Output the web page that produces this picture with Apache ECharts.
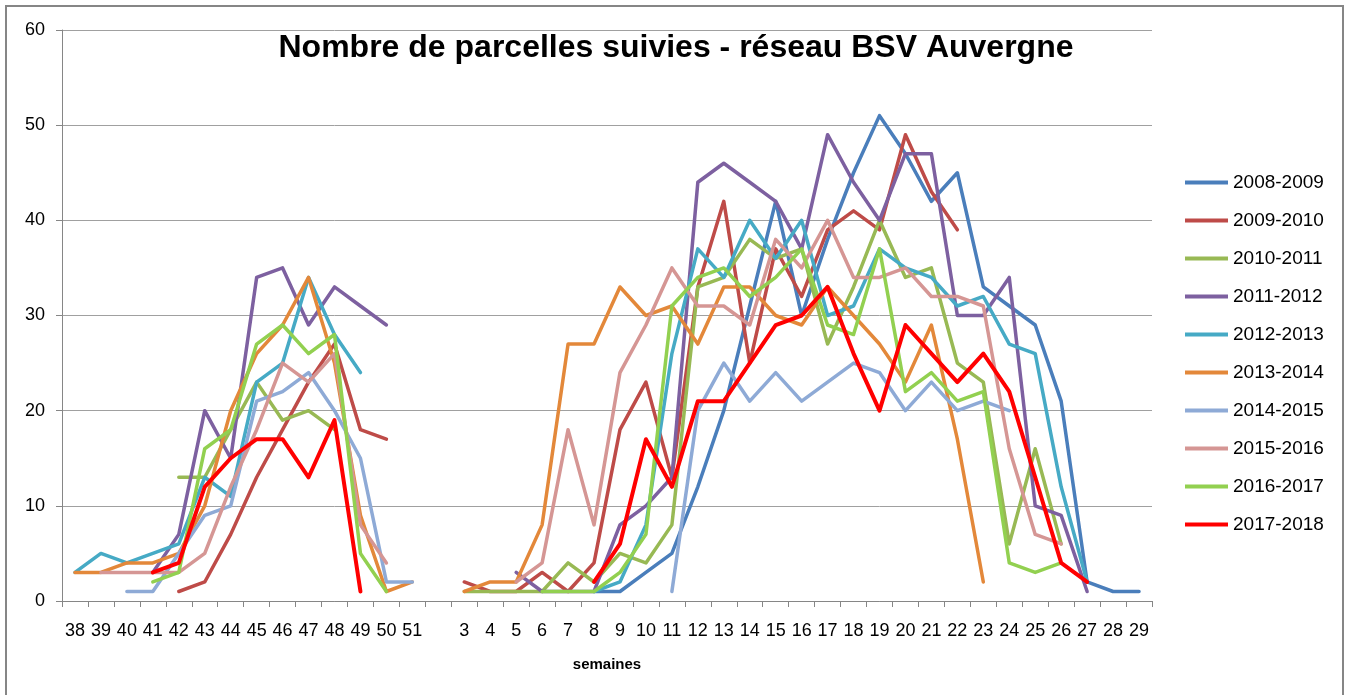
<!DOCTYPE html>
<html>
<head>
<meta charset="utf-8">
<style>
  html, body { margin: 0; padding: 0; background: #fff; }
  #chart { width: 1352px; height: 695px; }
</style>
<script src="https://cdn.jsdelivr.net/npm/echarts@6/dist/echarts.min.js"></script>
</head>
<body>
<div id="chart"></div>
<script>
// weeks 38-51 (autumn), then a blank slot, then weeks 3-29 (spring)
var autumnWeeks = ['38', '39', '40', '41', '42', '43', '44', '45', '46', '47', '48', '49', '50', '51'];
var springWeeks = ['3', '4', '5', '6', '7', '8', '9', '10', '11', '12', '13', '14', '15', '16', '17',
  '18', '19', '20', '21', '22', '23', '24', '25', '26', '27', '28', '29'];
var yTicks = [0, 10, 20, 30, 40, 50, 60];

var seasons = ['2008-2009', '2009-2010', '2010-2011', '2011-2012', '2012-2013',
  '2013-2014', '2014-2015', '2015-2016', '2016-2017', '2017-2018'];
var colors = ['#4a7ebb', '#be4b48', '#98b954', '#7d60a0', '#46aac5',
  '#e3883a', '#8eaad6', '#d59694', '#92d050', '#ff0000'];

var _ = null;
var autumn0809 = [_, _, _, _, _, _, _, _, _, _, _, _, _, _];
var spring0809 = [_, _, _, _, _, 1, 1, 3, 5, 12, 20, 31, 42, 30, 38, 45, 51, 47, 42, 45, 33, 31, 29, 21, 2, 1, 1];
var autumn0910 = [_, _, _, _, 1, 2, 7, 13, 18, 23, 27, 18, 17, _];
var spring0910 = [2, 1, 1, 3, 1, 4, 18, 23, 13, 33, 42, 25, 37, 32, 39, 41, 39, 49, 43, 39, _, _, _, _, _, _, _];
var autumn1011 = [_, _, _, _, 13, 13, 18, 23, 19, 20, 18, _, _, _];
var spring1011 = [1, 1, 1, 1, 4, 2, 5, 4, 8, 33, 34, 38, 36, 37, 27, 33, 40, 34, 35, 25, 23, 6, 16, 6, _, _, _];
var autumn1112 = [_, _, _, 3, 7, 20, 15, 34, 35, 29, 33, 31, 29, _];
var spring1112 = [_, _, 3, 1, 1, 1, 8, 10, 13, 44, 46, 44, 42, 37, 49, 44, 40, 47, 47, 30, 30, 34, 10, 9, 1, _, _];
var autumn1213 = [3, 5, 4, 5, 6, 13, 11, 23, 25, 34, 28, 24, _, _];
var spring1213 = [_, _, _, _, _, 1, 2, 8, 26, 37, 34, 40, 36, 40, 30, 31, 37, 35, 34, 31, 32, 27, 26, 12, 2, _, _];
var autumn1314 = [3, 3, 4, 4, 5, 10, 20, 26, 29, 34, 25, 9, 1, 2];
var spring1314 = [1, 2, 2, 8, 27, 27, 33, 30, 31, 27, 33, 33, 30, 29, 33, 30, 27, 23, 29, 17, 2, _, _, _, _, _, _];
var autumn1415 = [_, _, 1, 1, 5, 9, 10, 21, 22, 24, 20, 15, 2, 2];
var spring1415 = [_, _, _, _, _, _, _, _, 1, 20, 25, 21, 24, 21, 23, 25, 24, 20, 23, 20, 21, 20, _, _, _, _, _];
var autumn1516 = [_, 3, 3, 3, 3, 5, 12, 18, 25, 23, 26, 8, 4, _];
var spring1516 = [_, _, 2, 4, 18, 8, 24, 29, 35, 31, 31, 29, 38, 35, 40, 34, 34, 35, 32, 32, 31, 16, 7, 6, _, _, _];
var autumn1617 = [_, _, _, 2, 3, 16, 18, 27, 29, 26, 28, 5, 1, _];
var spring1617 = [_, _, _, 1, 1, 1, 3, 7, 31, 34, 35, 32, 34, 37, 29, 28, 37, 22, 24, 21, 22, 4, 3, 4, _, _, _];
var autumn1718 = [_, _, _, 3, 4, 12, 15, 17, 17, 13, 19, 1, _, _];
var spring1718 = [_, _, _, _, _, 2, 6, 17, 12, 21, 21, 25, 29, 30, 33, 26, 20, 29, 26, 23, 26, 22, 13, 4, 2, _, _];

var autumnData = [autumn0809, autumn0910, autumn1011, autumn1112, autumn1213,
  autumn1314, autumn1415, autumn1516, autumn1617, autumn1718];
var springData = [spring0809, spring0910, spring1011, spring1112, spring1213,
  spring1314, spring1415, spring1516, spring1617, spring1718];

var categories = autumnWeeks.concat([''], springWeeks);
var font = '"Liberation Sans", Arial, sans-serif';

var series = seasons.map(function (name, i) {
  return {
    name: name,
    type: 'line',
    data: autumnData[i].concat([null], springData[i]),
    symbol: 'none',
    connectNulls: false,
    lineStyle: { color: colors[i], width: i === 9 ? 4 : 3.5, cap: 'round', join: 'round' },
    itemStyle: { color: colors[i] },
    z: i === 9 ? 5 : 2
  };
});

var chart = echarts.init(document.getElementById('chart'), null, { renderer: 'canvas' });
chart.setOption({
  animation: false,
  backgroundColor: '#fff',
  title: {
    text: 'Nombre de parcelles suivies - réseau BSV Auvergne',
    left: 'center',
    top: 27,
    textStyle: { fontFamily: font, fontWeight: 'bold', fontSize: 32, color: '#000' }
  },
  graphic: [{
    type: 'rect',
    shape: { x: 6, y: 6, width: 1337, height: 720 },
    style: { fill: 'none', stroke: '#868686', lineWidth: 2 },
    silent: true
  }],
  legend: {
    orient: 'vertical',
    left: 1185,
    top: 173,
    padding: 0,
    icon: 'rect',
    itemWidth: 43,
    itemHeight: 4,
    itemGap: 19,
    textStyle: { fontFamily: font, fontSize: 19, color: '#000' },
    data: seasons
  },
  grid: { left: 62, right: 200, top: 30, bottom: 94 },
  xAxis: {
    type: 'category',
    data: categories,
    boundaryGap: true,
    name: 'semaines',
    nameLocation: 'middle',
    nameGap: 56,
    nameTextStyle: { fontFamily: font, fontWeight: 'bold', fontSize: 15, color: '#000' },
    axisLine: { lineStyle: { color: '#868686', width: 1 } },
    axisTick: { show: true, interval: 0, length: 6, lineStyle: { color: '#868686' } },
    axisLabel: { interval: 0, margin: 21, fontFamily: font, fontSize: 18, color: '#000' },
    splitLine: { show: false }
  },
  yAxis: {
    type: 'value',
    min: yTicks[0],
    max: yTicks[yTicks.length - 1],
    interval: 10,
    axisLine: { show: true, lineStyle: { color: '#868686', width: 1 } },
    axisTick: { show: true, length: 6, lineStyle: { color: '#868686' } },
    axisLabel: { margin: 17, fontFamily: font, fontSize: 18, color: '#000' },
    splitLine: { lineStyle: { color: '#a0a0a0', width: 1 } }
  },
  series: series
});
</script>
</body>
</html>
